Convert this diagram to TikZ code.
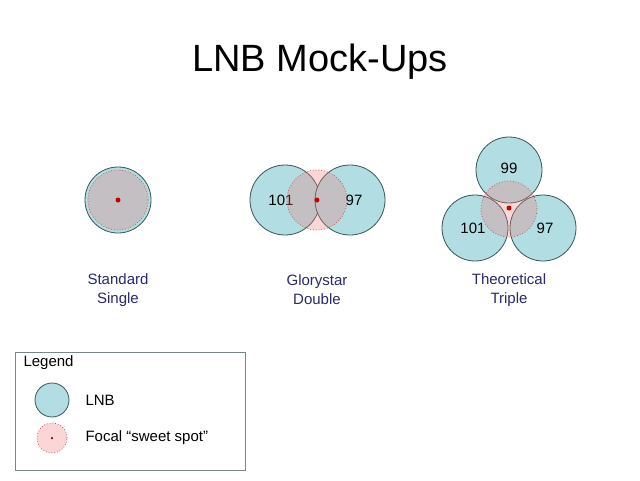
\documentclass[tikz,border=0pt]{standalone}
\usepackage{fontspec}
\setmainfont{Liberation Sans}
\usetikzlibrary{positioning}
\definecolor{lnbfill}{RGB}{178,222,227}
\definecolor{lnbline}{RGB}{60,85,85}
\definecolor{spotfill}{RGB}{240,120,120}
\definecolor{spotline}{RGB}{190,90,90}
\definecolor{labelblue}{RGB}{40,40,110}
\tikzset{
lnb/.style={circle, draw=lnbline, fill=lnbfill, line width=0.8pt, minimum size=#1, inner sep=0pt, font=\fontsize{15}{17}\selectfont},
spot/.style={circle, draw=spotline, dotted, line width=0.8pt, fill=spotfill, fill opacity=0.3, minimum size=#1, inner sep=0pt},
dot/.style={circle, fill=red!80!black, minimum size=5pt, inner sep=0pt},
caption/.style={align=center, text=labelblue, font=\fontsize{15}{19}\selectfont},
}
\begin{document}
\begin{tikzpicture}[x=1pt, y=-1pt]
    \useasboundingbox (0,0) rectangle (640,480);
    \node[font=\fontsize{38}{44}\selectfont] (title) at (320,62) {LNB Mock-Ups};

    %standard single
    \node[lnb=66pt]  (s1)    at (118,200) {};
    \node[spot=60pt] (sspot) at (118,200) {};
    \node[dot]       (sdot)  at (118,200) {};
    \node[caption]   (scap)  at (118,290) {Standard\\Single};

    %glorystar double
    \node[lnb=70pt]  (d1)    at (285,200) {\hspace*{-8pt}101};
    \node[lnb=70pt]  (d2)    at (350,200) {\hspace*{8pt}97};
    \node[spot=60pt] (dspot) at (317,200) {};
    \node[dot]       (ddot)  at (317,200) {};
    \node[caption]   (dcap)  at (317,290) {Glorystar\\Double};

    %theoretical triple
    \node[lnb=66pt]  (t1)    at (509,170) {\raisebox{4pt}{99}};
    \node[lnb=66pt]  (t2)    at (475,228) {\hspace*{-4pt}101};
    \node[lnb=66pt]  (t3)    at (543,228) {\hspace*{4pt}97};
    \node[spot=56pt] (tspot) at (509,209) {};
    \node[dot]       (tdot)  at (509,208) {};
    \node[caption]   (tcap)  at (509,290) {Theoretical\\Triple};

    %legend
    \draw[lnbline!70, line width=0.8pt] (15,352) rectangle (245,470);
    \node[anchor=west, font=\fontsize{15}{17}\selectfont] (leg) at (20,363) {Legend};
    \node[lnb=34pt]  (llnb)  at (52,400) {};
    \node[anchor=west, font=\fontsize{15}{17}\selectfont] (llnbt) at (82,400) {LNB};
    \node[spot=30pt] (lspot) at (52,438) {};
    \node[circle, fill=red!50!black, minimum size=2.5pt, inner sep=0pt] (ldot) at (52,438) {};
    \node[anchor=west, font=\fontsize{15}{17}\selectfont] (lspott) at (82,438) {Focal “sweet spot”};
\end{tikzpicture}
\end{document}
